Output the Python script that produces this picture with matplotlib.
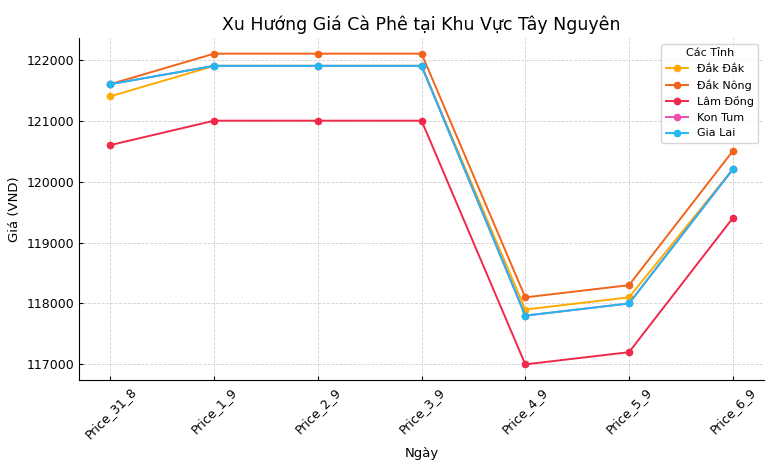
import matplotlib
matplotlib.use("Agg")
import matplotlib.pyplot as plt

days = ["Price_31_8", "Price_1_9", "Price_2_9", "Price_3_9", "Price_4_9", "Price_5_9", "Price_6_9"]

dak_dak = [121400, 121900, 121900, 121900, 117900, 118100, 120200]
dak_nong = [121600, 122100, 122100, 122100, 118100, 118300, 120500]
lam_dong = [120600, 121000, 121000, 121000, 117000, 117200, 119400]
kon_tum = [121600, 121900, 121900, 121900, 117800, 118000, 120200]
gia_lai = [121600, 121900, 121900, 121900, 117800, 118000, 120200]

series = [
    ("Đắk Đắk", dak_dak, "#FFAA00"),
    ("Đắk Nông", dak_nong, "#F26419"),
    ("Lâm Đồng", lam_dong, "#F0284A"),
    ("Kon Tum", kon_tum, "#EC4FB0"),
    ("Gia Lai", gia_lai, "#22B8F0"),
]

fig = plt.figure(figsize=(7.7, 4.65), dpi=100)
ax = fig.add_axes([0.103, 0.183, 0.889, 0.735])

x = list(range(len(days)))
for name, vals, col in series:
    ax.plot(x, vals, marker="o", markersize=4.5, linewidth=1.4, color=col, label=name)

ax.set_xticks(x)
ax.set_xticklabels(days, rotation=45)
ax.set_title("Xu Hướng Giá Cà Phê tại Khu Vực Tây Nguyên", fontsize=12.5)
ax.set_xlabel("Ngày", fontsize=9.5, labelpad=4)
ax.set_ylabel("Giá (VND)", fontsize=9.5)
ax.grid(True, linestyle="--", color="#d0d0d0", linewidth=0.6)
ax.spines["top"].set_visible(False)
ax.spines["right"].set_visible(False)
ax.tick_params(direction="in", length=3, labelsize=9)
ax.legend(title="Các Tỉnh", fontsize=8, title_fontsize=8, loc="upper right")

fig.savefig("out.png", dpi=100)
